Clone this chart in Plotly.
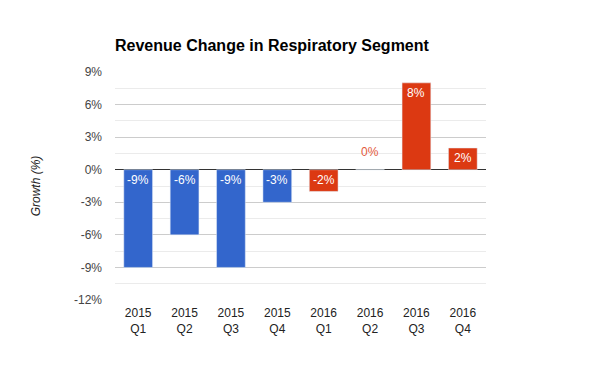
import plotly.graph_objects as go

quarters = ["2015<br>Q1", "2015<br>Q2", "2015<br>Q3", "2015<br>Q4",
            "2016<br>Q1", "2016<br>Q2", "2016<br>Q3", "2016<br>Q4"]
growth_2015 = [-9, -6, -9, -3]
growth_2016 = [-2, 0, 8, 2]
y_ticks = [-12, -9, -6, -3, 0, 3, 6, 9]
y_tick_labels = [f"{v}%" for v in y_ticks]

BLUE = "#3366cc"
RED = "#dc3912"

fig = go.Figure()
fig.add_trace(go.Bar(x=quarters[:4], y=growth_2015, marker_color=BLUE,
                     showlegend=False, hoverinfo="x+y"))
fig.add_trace(go.Bar(x=quarters[4:], y=growth_2016, marker_color=RED,
                     showlegend=False, hoverinfo="x+y"))

annotations = []
for xs, ys in [(quarters[:4], growth_2015), (quarters[4:], growth_2016)]:
    for x, v in zip(xs, ys):
        if v == 0:
            annotations.append(dict(x=x, y=0, text=f"{v}%", showarrow=False,
                                    yanchor="bottom", yshift=9,
                                    font=dict(color="#e35a3c", size=12)))
        else:
            annotations.append(dict(x=x, y=max(v, 0), text=f"{v}%", showarrow=False,
                                    yanchor="top", yshift=-1,
                                    font=dict(color="white", size=12)))

fig.update_layout(
    width=600, height=371,
    margin=dict(l=115, r=114, t=72, b=71, pad=0, autoexpand=False),
    paper_bgcolor="white", plot_bgcolor="white",
    font=dict(family="Arial, Liberation Sans, sans-serif", size=12, color="#444"),
    title=dict(text="<b>Revenue Change in Respiratory Segment</b>",
               x=115 / 600, xanchor="left", y=1 - 45 / 371, yanchor="middle",
               font=dict(size=16, color="#000"), automargin=False),
    bargap=0.38,
    annotations=annotations,
    xaxis=dict(type="category", showgrid=False, showline=False, ticks="",
               automargin=False, ticklabelstandoff=4,
               tickfont=dict(size=12, color="#222")),
    yaxis=dict(range=[-12, 9], tickmode="array", tickvals=y_ticks, ticktext=y_tick_labels,
               showgrid=True, gridcolor="#cccccc", gridwidth=1,
               zeroline=True, zerolinecolor="#333333", zerolinewidth=1,
               minor=dict(tickmode="linear", dtick=1.5, tick0=0, showgrid=True,
                          gridcolor="#ebebeb", gridwidth=1),
               ticks="", ticklabelstandoff=12, automargin=False,
               tickfont=dict(size=12, color="#444"),
               title=dict(text="<i>Growth (%)</i>", font=dict(size=12, color="#222"), standoff=30)),
)

fig.write_html("out.html", config={"displayModeBar": False})

# remove default page margin so the chart sits at the window origin
with open("out.html", "r", encoding="utf-8") as f:
    html = f.read()
html = html.replace("<head>", "<head><style>html,body{margin:0;padding:0;overflow:hidden;}</style>", 1)
with open("out.html", "w", encoding="utf-8") as f:
    f.write(html)
